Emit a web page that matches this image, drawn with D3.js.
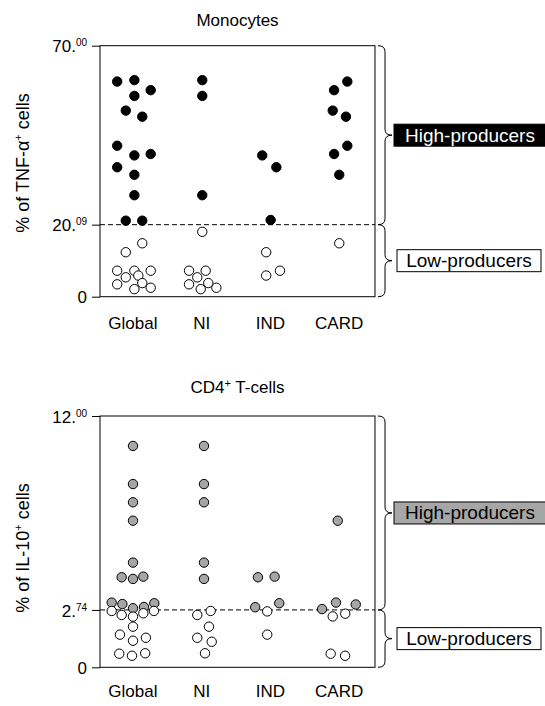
<!DOCTYPE html>
<html>
<head>
<meta charset="utf-8">
<script src="https://cdn.jsdelivr.net/npm/d3@7"></script>
<style>
  body { margin: 0; background: #fff; }
  svg { font-family: "Liberation Sans", Arial, sans-serif; }
</style>
</head>
<body>
<svg id="chart" width="545" height="706"></svg>
<script>
// categories on the x axis
const categories = ["Global", "NI", "IND", "CARD"];

// [value, jitter slot] ; slot is in quarter-steps of the category spacing
const tnfHighGlobal = [[60.0,-1],[60.4,0],[57.6,0.95],[56.0,0],[51.9,-0.5],[50.2,0.46],[42.1,-1],[39.4,0],[39.8,0.95],[36.1,-1],[34.0,0],[28.3,0],[21.2,-0.5],[21.2,0.46]];
const tnfLowGlobal = [[14.9,0.46],[12.4,-0.5],[7.25,-1],[7.25,0],[7.25,0.95],[5.4,-0.5],[5.9,0.23],[3.45,-1],[3.8,0.46],[2.1,0],[2.5,0.95]];
const tnfHighNI = [[60.4,-0.05],[56.0,-0.05],[28.3,-0.05]];
const tnfLowNI = [[18.1,-0.05],[7.25,-0.82],[7.25,0.15],[5.4,-0.34],[3.45,-0.82],[3.8,0.3],[2.1,-0.14],[2.5,0.77]];
const tnfHighIND = [[39.4,-0.56],[36.1,0.26],[21.4,-0.07]];
const tnfLowIND = [[12.4,-0.33],[5.9,-0.33],[7.25,0.47]];
const tnfHighCARD = [[60.0,0.39],[57.6,-0.38],[51.9,-0.46],[50.2,0.31],[42.1,0.39],[39.8,-0.38],[34.0,-0.08]];
const tnfLowCARD = [[14.9,-0.08]];

const il10HighGlobal = [[10.57,-0.08],[8.75,-0.08],[7.88,-0.08],[7.0,-0.08],[5.0,-0.08],[4.3,-0.74],[4.22,-0.08],[4.33,0.52],[3.09,-1.32],[3.02,-0.7],[2.82,-0.08],[2.88,0.56],[3.06,1.16]];
const il10LowGlobal = [[2.69,-1.32],[2.5,-0.74],[2.42,-0.08],[2.58,0.52],[2.69,1.14],[1.94,-0.08],[1.56,-0.84],[1.27,-0.08],[1.41,0.67],[0.65,-0.88],[0.55,-0.14],[0.67,0.63]];
const il10HighNI = [[10.57,0.05],[8.75,0.05],[7.88,0.05],[5.0,0.05],[4.22,0.05]];
const il10LowNI = [[2.5,-0.34],[2.69,0.44],[1.94,0.34],[1.41,-0.34],[1.22,0.5],[0.67,0.11]];
const il10HighIND = [[4.3,-0.81],[4.33,0.16],[2.87,-0.97],[3.06,0.43]];
const il10LowIND = [[2.67,-0.27],[1.56,-0.27]];
const il10HighCARD = [[7.0,-0.17],[2.78,-1.08],[3.09,-0.27],[3.0,0.88]];
const il10LowCARD = [[2.43,-0.46],[2.56,0.27],[0.65,-0.58],[0.55,0.26]];

// axis ticks: [value, integer part, superscript decimals]
const tnfTicks = [[0, "0", ""], [20.09, "20.", "09"], [70, "70.", "00"]];
const il10Ticks = [[0, "0", ""], [2.74, "2.", "74"], [12, "12.", "00"]];

const svg = d3.select('#chart');

function drawPanel(p) {
    let left = 100, right = 375;
    let g = svg.append('g');

    let x = d3.scalePoint().domain(categories).range([left, right]).padding(0.5);
    let jit = d3.scaleLinear().domain([-1, 1]).range([-x.step() / 4, x.step() / 4]);
    let y = d3.scaleLinear().domain([0, p.max]).range([p.bottom, p.top]);

    // title
    g.append('text')
        .attr('x', (left + right) / 2)
        .attr('y', p.titleY)
        .attr('text-anchor', 'middle')
        .attr('font-size', 17)
        .call(p.title);

    // y label
    g.append('text')
        .attr('transform', `translate(29, ${p.labelY}) rotate(-90)`)
        .attr('text-anchor', 'middle')
        .attr('font-size', 18)
        .call(p.ylabel);

    // frame
    g.append('rect')
        .attr('x', left).attr('y', y(p.max))
        .attr('width', right - left).attr('height', y(0) - y(p.max))
        .attr('fill', 'none').attr('stroke', '#000').attr('stroke-width', 1);

    // y axis with superscript decimals
    let axis = g.append('g')
        .attr('transform', `translate(${left},0)`)
        .call(d3.axisLeft(y).tickValues(p.ticks.map(d => d[0])).tickSize(8).tickFormat(''));
    axis.select('.domain').remove();
    axis.selectAll('.tick line').attr('stroke', '#000');
    axis.selectAll('.tick text').remove();
    axis.selectAll('.tick').data(p.ticks).each(function (d) {
        let t = d3.select(this).append('text')
            .attr('x', -13).attr('dy', '0.36em')
            .attr('text-anchor', 'end')
            .attr('font-size', 17)
            .attr('fill', '#000');
        t.append('tspan').text(d[1]);
        if (d[2]) {
            t.append('tspan').attr('font-size', 10).attr('dy', -6).text(d[2]);
        }
    });

    // threshold
    g.append('line')
        .attr('x1', left).attr('x2', right)
        .attr('y1', y(p.threshold)).attr('y2', y(p.threshold))
        .attr('stroke', '#000').attr('stroke-dasharray', '5,3');

    // x labels
    g.selectAll('text.cat')
        .data(categories)
        .enter()
        .append('text')
        .attr('class', 'cat')
        .attr('x', d => x(d) - 1.5)
        .attr('y', p.catY)
        .attr('text-anchor', 'middle')
        .attr('font-size', 17)
        .text(d => d);

    // points: high producers first, low producers on top
    categories.forEach(c => {
        g.append('g').selectAll('circle')
            .data(p.high[c])
            .enter()
            .append('circle')
            .attr('cx', d => x(c) + jit(d[1]))
            .attr('cy', d => y(d[0]))
            .attr('r', 4.7)
            .attr('fill', p.highFill)
            .attr('stroke', '#000')
            .attr('stroke-width', 1);
    });
    categories.forEach(c => {
        g.append('g').selectAll('circle')
            .data(p.low[c])
            .enter()
            .append('circle')
            .attr('cx', d => x(c) + jit(d[1]))
            .attr('cy', d => y(d[0]))
            .attr('r', 4.7)
            .attr('fill', '#fff')
            .attr('stroke', '#000')
            .attr('stroke-width', 1);
    });

    // braces and group labels
    function brace(y0, y1) {
        let x0 = 378, xv = 385, xt = 392, r = 6, m = (y0 + y1) / 2;
        return `M${x0},${y0} Q${xv},${y0} ${xv},${y0 + r} L${xv},${m - r} Q${xv},${m} ${xt},${m}` +
            ` Q${xv},${m} ${xv},${m + r} L${xv},${y1 - r} Q${xv},${y1} ${x0},${y1}`;
    }
    let groups = [
        {y0: y(p.max), y1: y(p.threshold), label: 'High-producers', fill: p.highFill, color: p.highText, bx: 394, bw: 152},
        {y0: y(p.threshold), y1: y(0), label: 'Low-producers', fill: '#fff', color: '#000', bx: 397, bw: 144}
    ];
    groups.forEach(b => {
        let m = (b.y0 + b.y1) / 2;
        g.append('path')
            .attr('d', brace(b.y0, b.y1))
            .attr('fill', 'none').attr('stroke', '#000').attr('stroke-width', 1);
        g.append('rect')
            .attr('x', b.bx).attr('y', m - 11)
            .attr('width', b.bw).attr('height', 22)
            .attr('fill', b.fill).attr('stroke', '#000').attr('stroke-width', 1);
        g.append('text')
            .attr('x', b.bx + b.bw / 2).attr('y', m + 6.5)
            .attr('text-anchor', 'middle')
            .attr('font-size', 19)
            .attr('fill', b.color)
            .text(b.label);
    });
}

drawPanel({
    max: 70, threshold: 20.09, top: 45.7, bottom: 296.7,
    ticks: tnfTicks,
    titleY: 26, labelY: 163, catY: 329,
    title: t => t.text('Monocytes'),
    ylabel: t => {
        t.append('tspan').text('% of TNF-α');
        t.append('tspan').attr('font-size', 11).attr('dy', -7).text('+');
        t.append('tspan').attr('dy', 7).text(' cells');
    },
    high: {Global: tnfHighGlobal, NI: tnfHighNI, IND: tnfHighIND, CARD: tnfHighCARD},
    low: {Global: tnfLowGlobal, NI: tnfLowNI, IND: tnfLowIND, CARD: tnfLowCARD},
    highFill: '#000', highText: '#fff'
});

drawPanel({
    max: 12, threshold: 2.74, top: 416, bottom: 667.3,
    ticks: il10Ticks,
    titleY: 393, labelY: 548, catY: 697,
    title: t => {
        t.append('tspan').text('CD4');
        t.append('tspan').attr('font-size', 11).attr('dy', -6).text('+');
        t.append('tspan').attr('dy', 6).text(' T-cells');
    },
    ylabel: t => {
        t.append('tspan').text('% of IL-10');
        t.append('tspan').attr('font-size', 11).attr('dy', -7).text('+');
        t.append('tspan').attr('dy', 7).text('  cells');
    },
    high: {Global: il10HighGlobal, NI: il10HighNI, IND: il10HighIND, CARD: il10HighCARD},
    low: {Global: il10LowGlobal, NI: il10LowNI, IND: il10LowIND, CARD: il10LowCARD},
    highFill: '#a6a6a6', highText: '#000'
});
</script>
</body>
</html>
